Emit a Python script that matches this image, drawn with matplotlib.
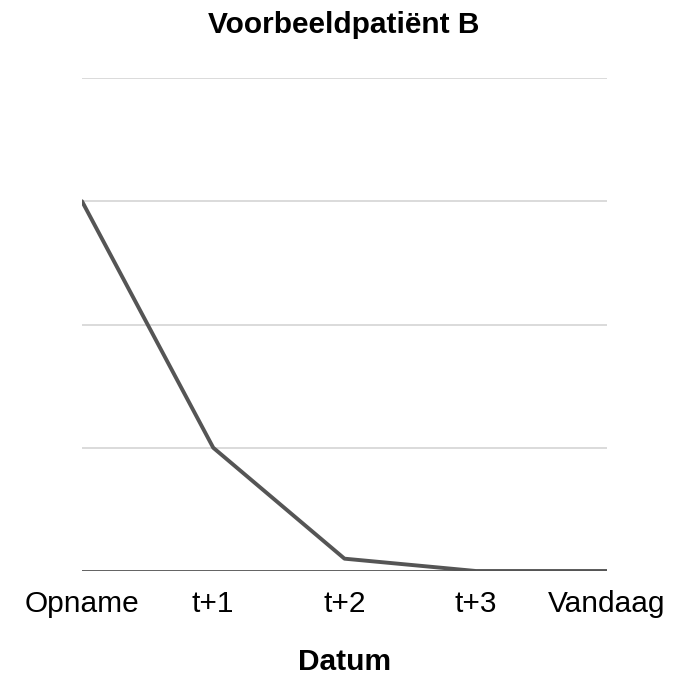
import matplotlib
matplotlib.use('Agg')
import matplotlib.pyplot as plt

plt.rcParams['font.family'] = ['Liberation Sans', 'DejaVu Sans']

categories = ['Opname', 't+1', 't+2', 't+3', 'Vandaag']
values = [3, 1, 0.1, 0, 0]
y_grid = [0, 1, 2, 3, 4]

fig = plt.figure(figsize=(6.77, 6.80), dpi=100)
ax = fig.add_axes([82 / 677, 1 - 571 / 680, (607 - 82) / 677, (571 - 78) / 680])

for y in y_grid[1:]:
    ax.axhline(y, color='#d4d4d4', linewidth=1.2, zorder=1)
ax.axhline(0, color='#555555', linewidth=1.3, zorder=2)

x = range(len(categories))
ax.plot(x, values, color='#555555', linewidth=2.8, solid_joinstyle='round',
        solid_capstyle='round', zorder=3)

ax.set_xlim(0, len(categories) - 1)
ax.set_ylim(0, 4)
ax.set_xticks(list(x))
ax.set_xticklabels(categories, fontsize=21.5)
ax.set_yticks([])
ax.tick_params(axis='x', length=0, pad=14)
for s in ax.spines.values():
    s.set_visible(False)

fig.text(344 / 677, 1 - 25 / 680, 'Voorbeeldpatiënt B', ha='center', va='center',
         fontsize=21.5, fontweight='bold')
fig.text(345 / 677, 1 - 662 / 680, 'Datum', ha='center', va='center',
         fontsize=21.5, fontweight='bold')

fig.savefig('out.png', dpi=100, facecolor='white')
